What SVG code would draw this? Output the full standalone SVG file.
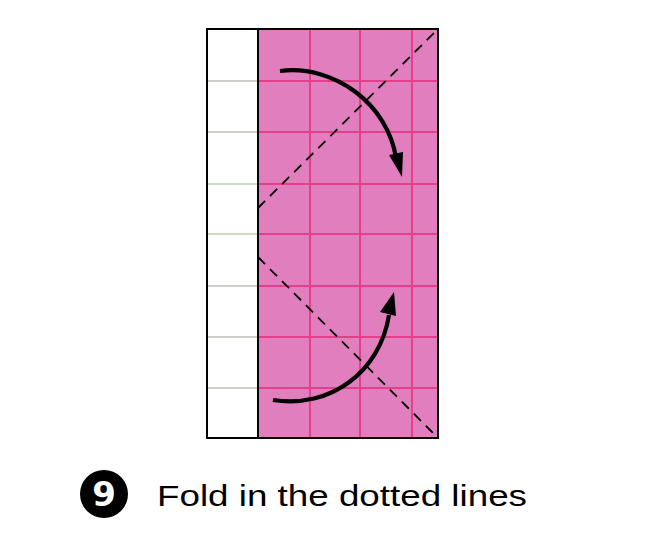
<svg xmlns="http://www.w3.org/2000/svg" width="647" height="547" viewBox="0 0 647 547">
<style>
.grid{stroke:#E2408A;stroke-width:2;fill:none}
.wl{stroke:#C0C0B8;stroke-width:1.5;fill:none}
.dash{stroke:#000;stroke-width:1.8;stroke-dasharray:10 7;fill:none}
.arr{stroke:#000;stroke-width:4.2;fill:none}
.lbl{font-family:"Liberation Sans",Arial,sans-serif;font-size:30px;fill:#000}
</style>
<rect width="647" height="547" fill="#fff"/>
<g id="paper">
<rect x="207" y="29" width="51" height="409" fill="#fff"/>
<rect x="258" y="29" width="180" height="409" fill="#E07EBE"/>
<g class="wl">
<line x1="207" y1="81" x2="258" y2="81"/>
<line x1="207" y1="132" x2="258" y2="132"/>
<line x1="207" y1="184" x2="258" y2="184" stroke="#B8D0B0"/>
<line x1="207" y1="234" x2="258" y2="234" stroke="#B8D0B0"/>
<line x1="207" y1="286" x2="258" y2="286"/>
<line x1="207" y1="337" x2="258" y2="337"/>
<line x1="207" y1="388" x2="258" y2="388"/>
</g>
<g class="grid">
<line x1="258" y1="81" x2="438" y2="81"/>
<line x1="258" y1="132" x2="438" y2="132"/>
<line x1="258" y1="184" x2="438" y2="184"/>
<line x1="258" y1="234" x2="438" y2="234"/>
<line x1="258" y1="286" x2="438" y2="286"/>
<line x1="258" y1="337" x2="438" y2="337"/>
<line x1="258" y1="388" x2="438" y2="388"/>
<line x1="310" y1="29" x2="310" y2="438"/>
<line x1="360" y1="29" x2="360" y2="438"/>
<line x1="412" y1="29" x2="412" y2="438"/>
</g>
<rect x="207" y="29" width="231" height="409" fill="none" stroke="#000" stroke-width="2"/>
<line x1="258" y1="29" x2="258" y2="438" stroke="#000" stroke-width="2"/>
</g>
<g id="connectors">
<line class="dash" x1="258" y1="208" x2="437" y2="30"/>
<line class="dash" x1="258" y1="257" x2="437" y2="437"/>
<path class="arr" d="M280,71 C335,64 388,105 396,158"/>
<polygon points="389,155 403,152 402,177" fill="#000"/>
<path class="arr" d="M273,400 C330,409 380,372 389,315"/>
<polygon points="380,312 396,316 394,292" fill="#000"/>
</g>
<g id="caption">
<circle cx="104" cy="494" r="24" fill="#000"/>
<text x="104" y="506" text-anchor="middle" font-family="'DejaVu Sans',sans-serif" font-weight="bold" font-size="34" fill="#fff">9</text>
<text class="lbl" x="157" y="506" textLength="370" lengthAdjust="spacingAndGlyphs">Fold in the dotted lines</text>
</g>
</svg>
